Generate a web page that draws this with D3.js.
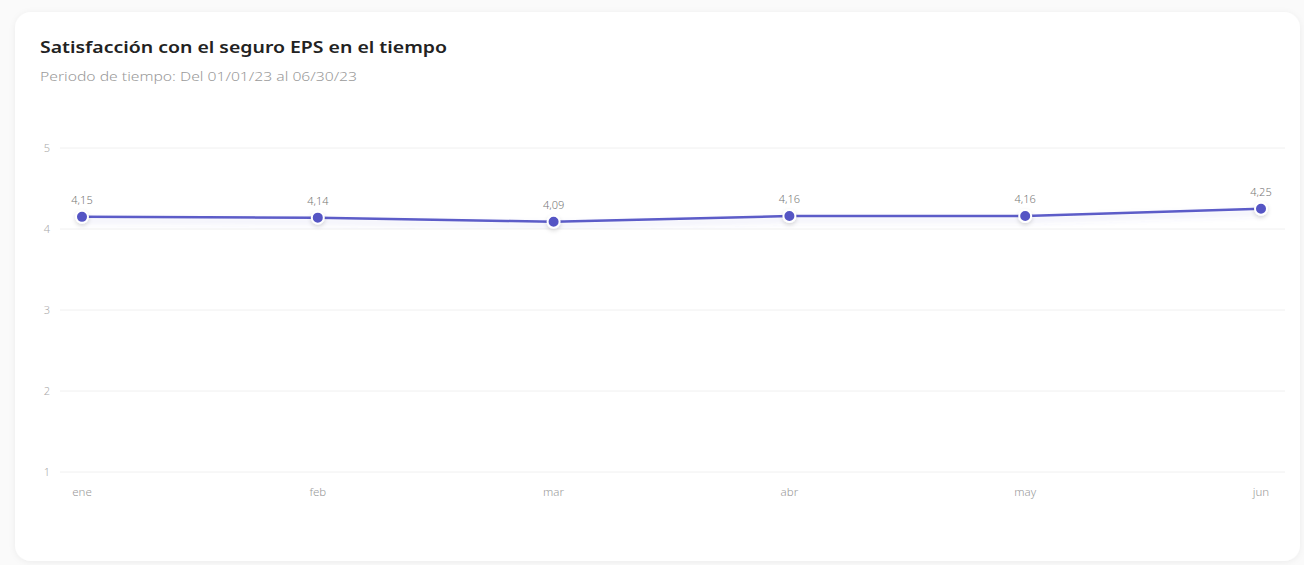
<!DOCTYPE html>
<html><head><meta charset="utf-8">
<script src="https://cdn.jsdelivr.net/npm/d3@7"></script>
<style>
html,body{margin:0;padding:0;background:#fafafa;}
svg{display:block;}
</style></head>
<body>
<svg id="c" width="1304" height="565"></svg>
<script>
const months = ["ene","feb","mar","abr","may","jun"];
const values = [4.15, 4.14, 4.09, 4.16, 4.16, 4.25];
const yTicks = [1,2,3,4,5];
const title = "Satisfacción con el seguro EPS en el tiempo";
const subtitle = "Periodo de tiempo: Del 01/01/23 al 06/30/23";

const FONT = "'Noto Sans', 'Open Sans', sans-serif";
const svg = d3.select("#c");
const defs = svg.append("defs");
const f = defs.append("filter").attr("id","cardShadow").attr("x","-5%").attr("y","-5%").attr("width","110%").attr("height","110%");
f.append("feDropShadow").attr("dx",0).attr("dy",1).attr("stdDeviation",3).attr("flood-color","#000").attr("flood-opacity",0.06);
const lf = defs.append("filter").attr("id","lineShadow").attr("x","-5%").attr("y","-50%").attr("width","110%").attr("height","200%");
lf.append("feDropShadow").attr("dx",0).attr("dy",4).attr("stdDeviation",3).attr("flood-color","#5b5bc8").attr("flood-opacity",0.18);
const pf = defs.append("filter").attr("id","ptShadow").attr("x","-100%").attr("y","-100%").attr("width","300%").attr("height","300%");
pf.append("feDropShadow").attr("dx",0).attr("dy",2).attr("stdDeviation",2).attr("flood-color","#000").attr("flood-opacity",0.15);

svg.append("rect").attr("x",15).attr("y",12).attr("width",1285).attr("height",549)
  .attr("rx",16).attr("fill","#fff").attr("filter","url(#cardShadow)");

svg.append("text").attr("x",40).attr("y",53).text(title)
  .attr("font-family",FONT).attr("font-weight",600)
  .attr("font-size",16).attr("fill","#222")
  .attr("textLength",407).attr("lengthAdjust","spacingAndGlyphs");
svg.append("text").attr("x",40).attr("y",81).text(subtitle)
  .attr("font-family",FONT).attr("font-weight",300)
  .attr("font-size",12.5).attr("fill","#9a9a9a")
  .attr("textLength",317).attr("lengthAdjust","spacingAndGlyphs");

const x = d3.scalePoint().domain(months).range([82, 1261]);
const y = d3.scaleLinear().domain([1,5]).range([472, 148]);

const g = svg.append("g");
g.selectAll("line.grid").data(yTicks).join("line")
  .attr("x1",60).attr("x2",1285)
  .attr("y1",d=>y(d)).attr("y2",d=>y(d))
  .attr("stroke","#f0f0f0").attr("stroke-width",1);
g.selectAll("text.yt").data(yTicks).join("text")
  .attr("x",47).attr("y",d=>y(d)+4).attr("text-anchor","middle")
  .attr("font-family",FONT).attr("font-weight",300).attr("font-size",11)
  .attr("fill","#aaa").text(d=>d);

g.selectAll("text.xt").data(months).join("text")
  .attr("x",d=>x(d)).attr("y",496).attr("text-anchor","middle")
  .attr("font-family",FONT).attr("font-weight",300).attr("font-size",11.5)
  .attr("fill","#999").text(d=>d);

const data = months.map((m,i)=>({m, v: values[i]}));
const line = d3.line().x(d=>x(d.m)).y(d=>y(d.v));
g.append("path").datum(data).attr("d",line).attr("fill","none")
  .attr("stroke","#5b5bc8").attr("stroke-width",2.5).attr("filter","url(#lineShadow)");

g.selectAll("circle.pt").data(data).join("circle")
  .attr("cx",d=>x(d.m)).attr("cy",d=>y(d.v)).attr("r",6)
  .attr("fill","#5555c4").attr("stroke","#fff").attr("stroke-width",2)
  .attr("filter","url(#ptShadow)");

g.selectAll("text.vl").data(data).join("text")
  .attr("x",d=>x(d.m)).attr("y",d=>y(d.v)-13).attr("text-anchor","middle")
  .attr("font-family",FONT).attr("font-weight",300).attr("font-size",11)
  .attr("fill","#777").text(d=>d.v.toFixed(2).replace(".",","));
</script>
</body></html>
